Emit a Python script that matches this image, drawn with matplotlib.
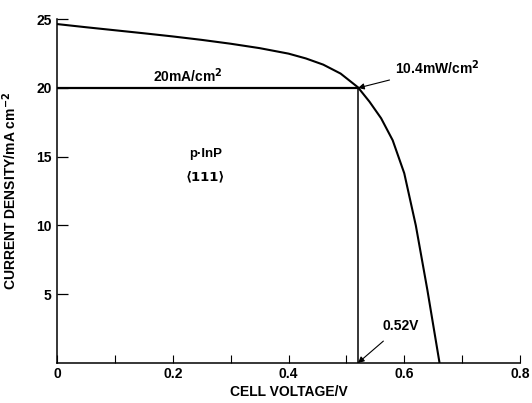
import matplotlib
matplotlib.use("Agg")
import matplotlib.pyplot as plt
from matplotlib.ticker import MultipleLocator

# ---- data ----
voltage = [0.00, 0.05, 0.10, 0.15, 0.20, 0.25, 0.30, 0.35, 0.40, 0.43, 0.46, 0.49,
           0.52, 0.54, 0.56, 0.58, 0.60, 0.62, 0.64, 0.661]
current = [24.65, 24.42, 24.2, 23.98, 23.75, 23.5, 23.22, 22.9, 22.5, 22.15, 21.7, 21.05,
           20.05, 19.0, 17.8, 16.2, 13.8, 10.0, 5.3, 0.0]
v_mp = 0.52
j_mp = 20.0
x_ticks = [0, 0.2, 0.4, 0.6, 0.8]
x_tick_labels = ["0", "0.2", "0.4", "0.6", "0.8"]
y_ticks = [5, 10, 15, 20, 25]
y_tick_labels = ["5", "10", "15", "20", "25"]

FONT = ["Liberation Sans Narrow", "Liberation Sans", "DejaVu Sans"]
plt.rcParams["font.family"] = FONT
plt.rcParams["font.weight"] = "bold"

fig = plt.figure(figsize=(5.32, 4.03), dpi=100)
ax = fig.add_axes([57 / 532, 1 - 363 / 403, (520 - 57) / 532, (363 - 19.25) / 403])

ax.plot(voltage, current, color="black", lw=1.5, solid_capstyle="butt",
        solid_joinstyle="round")
ax.plot([0, v_mp], [j_mp, j_mp], color="black", lw=1.6)
ax.plot([v_mp, v_mp], [0, j_mp], color="black", lw=1.1)

ax.set_xlim(0, 0.8)
ax.set_ylim(0, 25)
for s in ["top", "right"]:
    ax.spines[s].set_visible(False)
for s in ["left", "bottom"]:
    ax.spines[s].set_linewidth(1.1)

ax.set_xticks(x_ticks)
ax.set_xticklabels(x_tick_labels)
ax.xaxis.set_minor_locator(MultipleLocator(0.1))
ax.set_yticks(y_ticks)
ax.set_yticklabels(y_tick_labels)
ax.tick_params(axis="x", which="both", direction="in", length=6, width=0.8, pad=3,
               labelsize=10)
ax.tick_params(axis="y", which="major", direction="in", length=8, width=0.9, pad=4,
               labelsize=10)

ax.set_xlabel("CELL VOLTAGE/V", fontsize=10, fontweight="bold", labelpad=3)
ax.set_ylabel("CURRENT DENSITY/mA cm$^{\\mathbf{-2}}$", fontsize=10, fontweight="bold",
              labelpad=12)

ax.text(0.166, 20.46, "20mA/cm$^{\\mathbf{2}}$", fontsize=10, fontweight="bold",
        ha="left", va="baseline")
ax.annotate("10.4mW/cm$^{\\mathbf{2}}$", xy=(v_mp, j_mp), xytext=(0.584, 21.0),
            fontsize=10, fontweight="bold", ha="left", va="baseline",
            arrowprops=dict(arrowstyle="-|>", color="black", lw=0.8,
                            mutation_scale=9, shrinkA=2, shrinkB=0))
ax.annotate("0.52V", xy=(v_mp, 0), xytext=(0.563, 2.7),
            fontsize=10, fontweight="bold", ha="left", va="center",
            arrowprops=dict(arrowstyle="-|>", color="black", lw=0.8,
                            mutation_scale=9, shrinkA=6, shrinkB=0))
ax.text(0.257, 15.2, "p·InP", fontsize=9.5, fontweight="bold", ha="center", va="center")
ax.text(0.257, 13.5, "⟨111⟩", fontsize=9.5, fontweight="bold", ha="center", va="center",
        family=["DejaVu Sans"])

fig.savefig("out.png", dpi=100)
